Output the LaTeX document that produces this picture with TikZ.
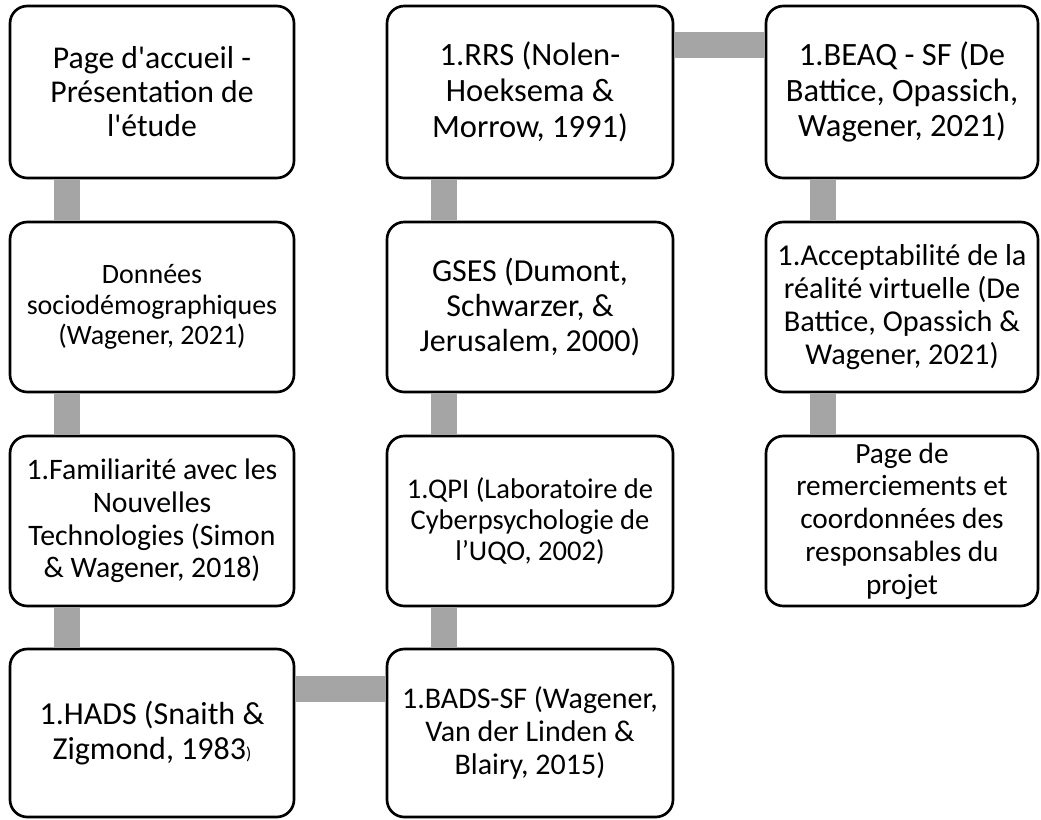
\documentclass[tikz,border=0pt]{standalone}
\usepackage{fontspec}
\newfontfamily\boxfont{Carlito}
\usepackage{tikz}
\usetikzlibrary{positioning}
\definecolor{barGrey}{HTML}{A5A5A5}
\tikzset{
  step_box/.style={rectangle, rounded corners = 13pt, draw, line width = 2pt, color=black, fill=white, align = center, inner sep = 0},
  col_a/.style={step_box, minimum width = 213pt},
  col_b/.style={step_box, minimum width = 214.5pt},
  col_c/.style={step_box, minimum width = 204pt},
  txt/.style 2 args={font=\boxfont\fontsize{#1}{#2}\selectfont},
  link_bar/.style={-, line width = 19.5pt, color = barGrey}}

\begin{document}
\begin{tikzpicture}[x = 0.75pt, y = -0.75pt]

\useasboundingbox (0,0) rectangle (1041,819);

%%% first column
\node[col_a, minimum height = 129pt, txt={23.8}{25.5}] at (152,92) (accueil){Page d'accueil -\\Présentation de\\l'étude};
\node[col_a, minimum height = 127.5pt, txt={21}{23}] at (152,307) (socio){Données\\sociodémographiques\\(Wagener, 2021)};
\node[col_a, minimum height = 127.5pt, txt={22.3}{24.5}] at (152,521) (famil){1.Familiarité avec les\\Nouvelles\\Technologies (Simon\\\& Wagener, 2018)};
\node[col_a, minimum height = 126pt, txt={24}{26.3}] at (152,733) (hads){1.HADS (Snaith \&\\Zigmond, 1983{\fontsize{13}{13}\selectfont)}};

%%% second column
\node[col_b, minimum height = 129pt, txt={24.4}{26.8}] at (530,92) (rrs){1.RRS (Nolen-\\Hoeksema \&\\Morrow, 1991)};
\node[col_b, minimum height = 127.5pt, txt={24}{26.3}] at (530,307) (gses){GSES (Dumont,\\Schwarzer, \&\\Jerusalem, 2000)};
\node[col_b, minimum height = 127.5pt, txt={21.4}{23.5}] at (530,521) (qpi){1.QPI (Laboratoire de\\Cyberpsychologie de\\l’UQO, 2002)};
\node[col_b, minimum height = 126pt, txt={22.5}{24.7}] at (530,733) (bads){1.BADS-SF (Wagener,\\Van der Linden \&\\Blairy, 2015)};

%%% third column
\node[col_c, minimum height = 129pt, txt={24.4}{26.8}] at (902,92) (beaq){1.BEAQ - SF (De\\Battice, Opassich,\\Wagener, 2021)};
\node[col_c, minimum height = 127.5pt, txt={22.7}{24.9}] at (902,307) (accept){1.Acceptabilité de la\\réalité virtuelle (De\\Battice, Opassich \&\\Wagener, 2021)};
\node[col_c, minimum height = 127.5pt, txt={22}{24.6}] at (902,521) (merci){Page de\\remerciements et\\coordonnées des\\responsables du\\projet};

%%% vertical bars
\draw[link_bar] ([xshift=43.5pt]accueil.south west) -- ([xshift=43.5pt]socio.north west);
\draw[link_bar] ([xshift=43.5pt]socio.south west) -- ([xshift=43.5pt]famil.north west);
\draw[link_bar] ([xshift=43.5pt]famil.south west) -- ([xshift=43.5pt]hads.north west);
\draw[link_bar] ([xshift=43.5pt]rrs.south west) -- ([xshift=43.5pt]gses.north west);
\draw[link_bar] ([xshift=43.5pt]gses.south west) -- ([xshift=43.5pt]qpi.north west);
\draw[link_bar] ([xshift=43.5pt]qpi.south west) -- ([xshift=43.5pt]bads.north west);
\draw[link_bar] ([xshift=43.5pt]beaq.south west) -- ([xshift=43.5pt]accept.north west);
\draw[link_bar] ([xshift=43.5pt]accept.south west) -- ([xshift=43.5pt]merci.north west);

%%% horizontal bars
\draw[link_bar] ([yshift=-31pt]hads.north east) -- ([yshift=-31pt]bads.north west);
\draw[link_bar] ([yshift=-30.5pt]rrs.north east) -- ([yshift=-30.5pt]beaq.north west);

\end{tikzpicture}
\end{document}
